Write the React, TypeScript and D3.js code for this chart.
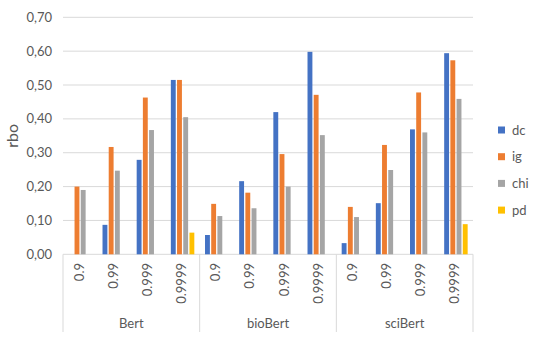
import React from "react";
import * as d3 from "d3";

const groups = ["Bert", "bioBert", "sciBert"];
const thresholds = ["0.9", "0.99", "0.999", "0.9999"];
const series = ["dc", "ig", "chi", "pd"];
const colors = ["#4472C4", "#ED7D31", "#A5A5A5", "#FFC000"];

// values per category (group x threshold), in order Bert..., bioBert..., sciBert...
const dc = [0, 0.087, 0.279, 0.515, 0.057, 0.216, 0.42, 0.598, 0.033, 0.151, 0.369, 0.594];
const ig = [0.2, 0.317, 0.463, 0.515, 0.149, 0.182, 0.296, 0.471, 0.14, 0.323, 0.478, 0.573];
const chi = [0.19, 0.247, 0.367, 0.405, 0.113, 0.136, 0.2, 0.352, 0.11, 0.249, 0.36, 0.459];
const pd = [0, 0, 0, 0.064, 0, 0, 0, 0, 0, 0, 0, 0.089];
const yTicks = [0, 0.1, 0.2, 0.3, 0.4, 0.5, 0.6, 0.7];

const W = 538;
const H = 353;
const left = 63;
const right = 473;
const top = 17.3;
const bottom = 254.3;
const font = "Lato, 'Open Sans', sans-serif";
const textColor = "#595959";

export default function App() {
  const values = [dc, ig, chi, pd];
  const cats = groups.flatMap((g) => thresholds.map((t) => `${g}|${t}`));
  const x0 = d3.scaleBand<string>().domain(cats).range([left, right]).padding(0);
  const x1 = d3
    .scaleBand<string>()
    .domain(series)
    .range([0, x0.bandwidth()])
    .paddingInner(0.2126)
    .paddingOuter(0.862);
  const y = d3.scaleLinear().domain([0, 0.7]).range([bottom, top]);
  const fmt = (v: number) => d3.format(".2f")(v).replace(".", ",");
  const groupW = (right - left) / groups.length;

  return (
    <svg
      width={W}
      height={H}
      style={{ position: "absolute", left: 0, top: 0, background: "#fff" }}
      fontFamily={font}
    >
      {yTicks.map((t) => (
        <g key={t}>
          <line x1={left} x2={right} y1={y(t)} y2={y(t)} stroke="#D9D9D9" strokeWidth={1} />
          <text x={52} y={y(t)} dy="0.35em" textAnchor="end" fontSize={13} fill={textColor}>
            {fmt(t)}
          </text>
        </g>
      ))}
      <text
        transform={`translate(12.5,${(top + bottom) / 2}) rotate(-90)`}
        textAnchor="middle"
        dy="0.35em"
        fontSize={16}
        fill={textColor}
      >
        rbo
      </text>
      {cats.map((c, i) =>
        series.map((s, j) => {
          const v = values[j][i];
          if (!v) return null;
          return (
            <rect
              key={c + s}
              x={(x0(c) as number) + (x1(s) as number)}
              y={y(v)}
              width={x1.bandwidth()}
              height={y(0) - y(v)}
              fill={colors[j]}
            />
          );
        })
      )}
      {d3.range(groups.length + 1).map((k) => (
        <line
          key={k}
          x1={left + k * groupW}
          x2={left + k * groupW}
          y1={bottom}
          y2={332}
          stroke="#D9D9D9"
          strokeWidth={1}
        />
      ))}
      {cats.map((c) => {
        const cx = (x0(c) as number) + x0.bandwidth() / 2;
        const t = c.split("|")[1];
        return (
          <text
            key={c}
            transform={`translate(${cx - 1},263) rotate(-90)`}
            textAnchor="end"
            dy="0.35em"
            fontSize={13}
            fill={textColor}
          >
            {t}
          </text>
        );
      })}
      {groups.map((g, k) => (
        <text
          key={g}
          x={left + (k + 0.5) * groupW}
          y={323}
          dy="0.35em"
          textAnchor="middle"
          fontSize={13}
          fill={textColor}
        >
          {g}
        </text>
      ))}
      {series.map((s, j) => (
        <g key={s} transform={`translate(498,${130 + j * 26.7})`}>
          <rect x={0} y={-3.5} width={7} height={7} fill={colors[j]} />
          <text x={14} y={0} dy="0.35em" fontSize={13} fill={textColor}>
            {s}
          </text>
        </g>
      ))}
    </svg>
  );
}
